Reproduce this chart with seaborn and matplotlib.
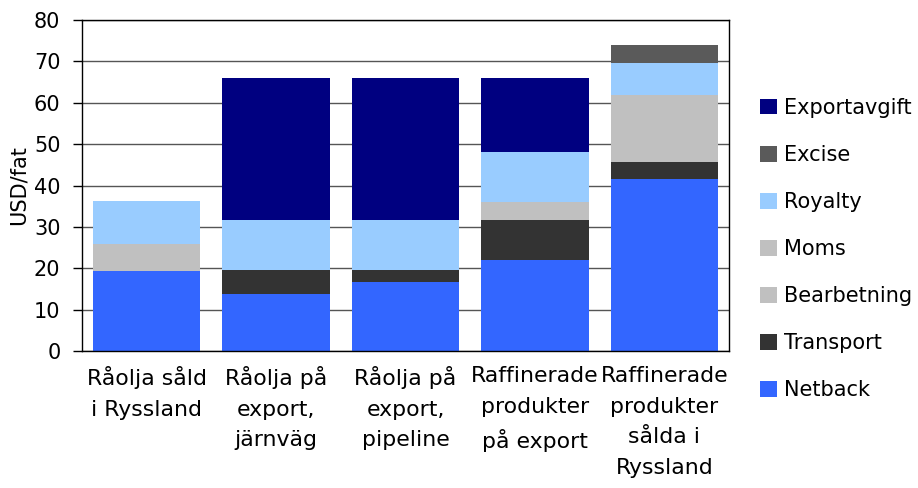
import matplotlib
matplotlib.use("Agg")
import matplotlib.pyplot as plt
import seaborn as sns
import numpy as np
from matplotlib.patches import Patch

categories = ["Råolja såld\ni Ryssland", "Råolja på\nexport,\njärnväg", "Råolja på\nexport,\npipeline",
              "Raffinerade\nprodukter\npå export", "Raffinerade\nprodukter\nsålda i\nRyssland"]
netback = [19.3, 13.8, 16.7, 22.0, 41.6]
transport = [0.0, 5.8, 2.9, 9.7, 4.1]
bearbetning = [0.0, 0.0, 0.0, 4.4, 5.2]
moms = [6.5, 0.0, 0.0, 0.0, 11.0]
royalty = [10.5, 12.1, 12.1, 12.0, 7.8]
excise = [0.0, 0.0, 0.0, 0.0, 4.3]
exportavgift = [0.0, 34.3, 34.3, 17.9, 0.0]

series = [("Netback", netback, "#3366FF"),
          ("Transport", transport, "#333333"),
          ("Bearbetning", bearbetning, "#C0C0C0"),
          ("Moms", moms, "#C0C0C0"),
          ("Royalty", royalty, "#99CCFF"),
          ("Excise", excise, "#5A5A5A"),
          ("Exportavgift", exportavgift, "#000080")]

sns.set_style("white")
plt.rcParams["font.family"] = ["DejaVu Sans"]
plt.rcParams["text.color"] = "black"
plt.rcParams["axes.labelcolor"] = "black"
plt.rcParams["xtick.color"] = "black"
plt.rcParams["ytick.color"] = "black"

FS = 15

fig, ax = plt.subplots(figsize=(9.18, 4.88), dpi=100)
fig.subplots_adjust(left=82/918, right=729/918, top=1-20/488, bottom=1-351/488)

ax.set_axisbelow(True)
ax.yaxis.grid(True, color="#555555", linewidth=1.0)

cum = np.zeros(len(categories))
for name, vals, col in series:
    sns.barplot(x=categories, y=vals, bottom=cum, color=col, width=0.83,
                saturation=1, ax=ax, linewidth=0)
    cum = cum + np.array(vals)

ax.set_ylim(0, 80)
ax.set_yticks(range(0, 81, 10))
ax.set_xlim(-0.5, len(categories) - 0.5)
ax.tick_params(axis="y", labelsize=FS, length=6.5, width=1, direction="out", left=True,
               color="black", labelcolor="black", pad=9)
ax.tick_params(axis="x", length=0, pad=11, labelcolor="black")
ax.set_xticks(range(len(categories)))
ax.set_xticklabels(categories, fontsize=15.8, linespacing=1.66, va="top")
ax.set_ylabel("USD/fat", fontsize=FS, labelpad=4, color="black")

for s in ax.spines.values():
    s.set_visible(True)
    s.set_color("black")
    s.set_linewidth(1.0)

handles = [Patch(facecolor=col, edgecolor="none", label=name) for name, vals, col in series][::-1]
fig.legend(handles=handles, loc="center left", bbox_to_anchor=(760/918, 1-249/488),
           frameon=False, fontsize=FS, labelspacing=1.30, handlelength=0.8,
           handleheight=0.8, handletextpad=0.35, borderaxespad=0, borderpad=0,
           labelcolor="black")

fig.savefig("out.png", dpi=100)
